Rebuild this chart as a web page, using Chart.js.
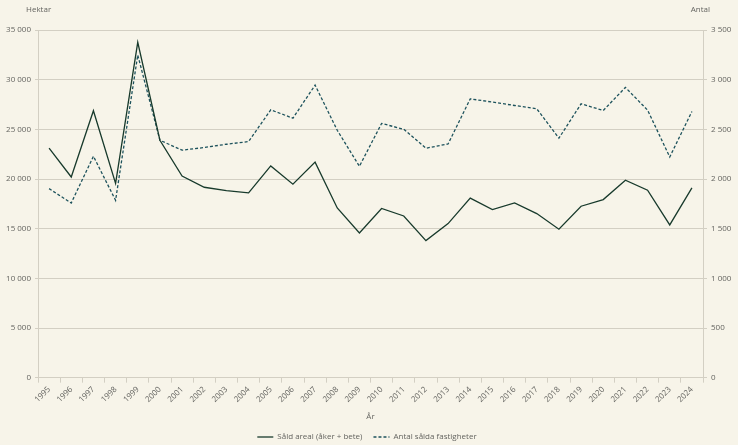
<!DOCTYPE html>
<html>
<head>
<meta charset="utf-8">
<script src="https://cdn.jsdelivr.net/npm/chart.js@4/dist/chart.umd.min.js"></script>
<style>
  html, body { margin: 0; padding: 0; background: #f7f4e9; }
  #wrap { width: 738px; height: 445px; position: relative; }
</style>
</head>
<body>
<div id="wrap"><canvas id="chart"></canvas></div>
<script>
// År
var years = ["1995", "1996", "1997", "1998", "1999", "2000", "2001", "2002", "2003", "2004",
	"2005", "2006", "2007", "2008", "2009", "2010", "2011", "2012", "2013", "2014",
	"2015", "2016", "2017", "2018", "2019", "2020", "2021", "2022", "2023", "2024"];

// Såld areal (hektar), vänster axel
var soldArea = [23100, 20200, 26870, 19550, 33760, 23900, 20300, 19170, 18840, 18600,
	21320, 19480, 21700, 17090, 14570, 17030, 16280, 13800, 15510, 18070,
	16930, 17600, 16520, 14940, 17260, 17930, 19880, 18870, 15380, 19100];

// Antal sålda fastigheter, höger axel
var soldCount = [1903, 1758, 2229, 1785, 3248, 2390, 2290, 2317, 2350, 2377,
	2696, 2612, 2945, 2491, 2128, 2559, 2501, 2310, 2353, 2807,
	2774, 2740, 2707, 2411, 2757, 2690, 2922, 2693, 2222, 2680];

var seriesNames = ["Såld areal (åker + bete)", "Antal sålda fastigheter"];

var textColor = "#646460";
var gridColor = "#d3cfc3";

// Tusentalsavgränsare med mellanslag
function fmt(v) {
	return String(v).replace(/\B(?=(\d{3})+(?!\d))/g, " ");
}

// Rubriker ovanför axlarna
var axisTitles = {
	id: "axisTitles",
	afterDraw: function(chart) {
		var ctx = chart.ctx;
		ctx.save();
		ctx.font = "8px 'Open Sans'";
		ctx.fillStyle = textColor;
		ctx.textBaseline = "middle";
		ctx.textAlign = "left";
		ctx.fillText("Hektar", 26, 10);
		ctx.textAlign = "right";
		ctx.fillText("Antal", 710, 10);
		ctx.restore();
	}
};

var ctx = document.getElementById("chart").getContext("2d");
var myChart = new Chart(ctx, {
	type: "line",
	data: {
		labels: years,
		datasets: [
			{
				label: seriesNames[0],
				data: soldArea,
				yAxisID: "y",
				borderColor: "#183a2c",
				backgroundColor: "#183a2c",
				borderWidth: 1.3,
				pointRadius: 0,
				tension: 0
			},
			{
				label: seriesNames[1],
				data: soldCount,
				yAxisID: "y1",
				borderColor: "#1d525c",
				backgroundColor: "#1d525c",
				borderWidth: 1.3,
				borderDash: [3, 2],
				pointRadius: 0,
				tension: 0
			}
		]
	},
	options: {
		responsive: true,
		maintainAspectRatio: false,
		animation: false,
		layout: { padding: { top: 30, left: 0, right: 4, bottom: -6 } },
		plugins: {
			tooltip: { enabled: false },
			legend: {
				position: "bottom",
				labels: {
					usePointStyle: true,
					pointStyleWidth: 16,
					boxHeight: 6,
					color: textColor,
					font: { family: "'Open Sans'", size: 8 },
					padding: 11,
					// legendens linjer med samma streckning som serierna
					generateLabels: function(chart) {
						var items = Chart.defaults.plugins.legend.labels.generateLabels(chart);
						items.forEach(function(item, i) {
							var ds = chart.data.datasets[i];
							item.pointStyle = "line";
							item.strokeStyle = ds.borderColor;
							item.lineWidth = 1.3;
							item.lineDash = ds.borderDash || [];
						});
						return items;
					}
				}
			}
		},
		scales: {
			x: {
				offset: true,
				grid: { display: true, drawOnChartArea: false, offset: true, color: gridColor, tickLength: 5 },
				border: { color: gridColor },
				ticks: {
					color: textColor,
					font: { family: "'Open Sans'", size: 8 },
					maxRotation: 45,
					minRotation: 45,
					autoSkip: false,
					padding: 2
				},
				title: {
					display: true,
					text: "År",
					color: textColor,
					font: { family: "'Open Sans'", size: 8 },
					padding: { top: 6, bottom: 0 }
				}
			},
			y: {
				position: "left",
				min: 0,
				max: 35000,
				afterFit: function(scale) { scale.width = 38; },
				grid: { color: gridColor, tickLength: 3 },
				border: { color: gridColor },
				ticks: {
					stepSize: 5000,
					color: textColor,
					font: { family: "'Open Sans'", size: 8 },
					padding: 4,
					callback: function(v) { return fmt(v); }
				}
			},
			y1: {
				position: "right",
				min: 0,
				max: 3500,
				afterFit: function(scale) { scale.width = 31; },
				grid: { drawOnChartArea: false, color: gridColor, tickLength: 4 },
				border: { color: gridColor },
				ticks: {
					stepSize: 500,
					color: textColor,
					font: { family: "'Open Sans'", size: 8 },
					padding: 4,
					callback: function(v) { return fmt(v); }
				}
			}
		}
	},
	plugins: [axisTitles]
});
</script>
</body>
</html>
